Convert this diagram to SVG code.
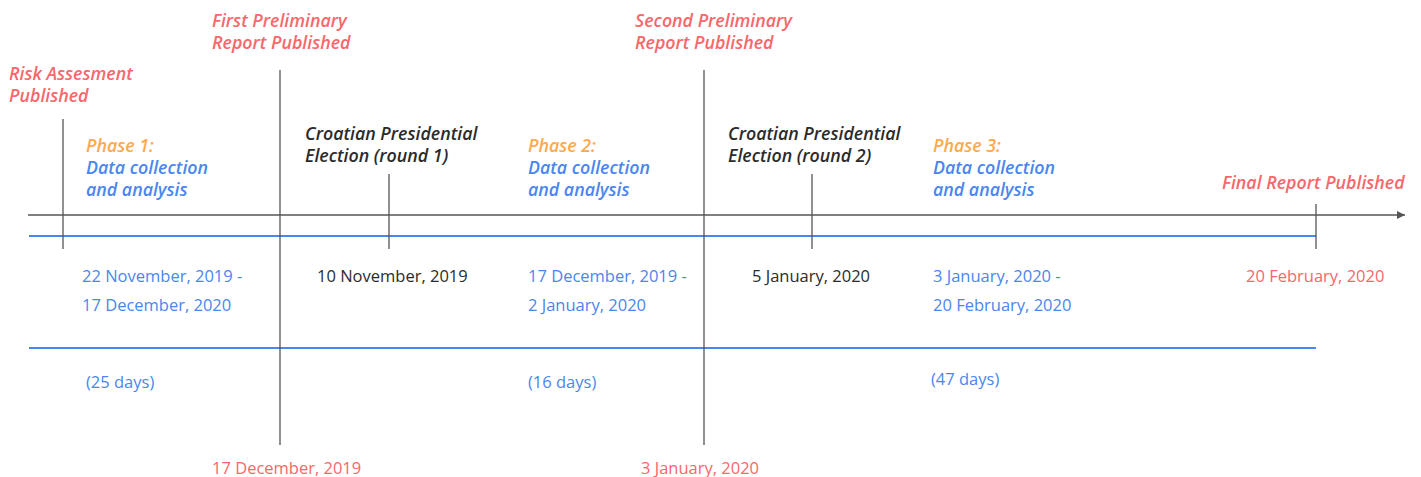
<svg xmlns="http://www.w3.org/2000/svg" width="1421" height="477" viewBox="0 0 1421 477">
<style>
text{font-family:"Open Sans","Noto Sans",sans-serif}
.h{font-size:17.8px;font-weight:600;font-style:italic}
.d{font-size:16.5px}
.red{fill:#f7676b}
.org{fill:#ffa94d}
.blu{fill:#4a86f0}
.dk{fill:#2b2b2b}
.ax{stroke:#555;stroke-width:1.3;fill:none}
.bl{stroke:#4a86f0;stroke-width:2;fill:none}
</style>
<defs>
<marker id="arr" viewBox="0 0 10 10" refX="10" refY="5" markerWidth="8" markerHeight="8" markerUnits="userSpaceOnUse" orient="auto">
<path d="M0,0 L10,5 L0,10 z" fill="#555"/>
</marker>
</defs>
<g id="connectors">
<line class="ax" x1="28" y1="215" x2="1405" y2="215" marker-end="url(#arr)"/>
<line class="bl" x1="29" y1="236" x2="1316" y2="236"/>
<line class="bl" x1="29" y1="348" x2="1316" y2="348"/>
<line class="ax" x1="63" y1="119" x2="63" y2="249"/>
<line class="ax" x1="280" y1="70" x2="280" y2="445"/>
<line class="ax" x1="389" y1="174" x2="389" y2="249"/>
<line class="ax" x1="704" y1="70" x2="704" y2="445"/>
<line class="ax" x1="812" y1="174" x2="812" y2="249"/>
<line class="ax" x1="1316" y1="204" x2="1316" y2="249"/>
</g>
<g id="risk">
<text class="h red" x="9" y="80">Risk Assesment</text>
<text class="h red" x="9" y="102">Published</text>
</g>
<g id="first-report">
<text class="h red" x="212" y="27">First Preliminary</text>
<text class="h red" x="212" y="49">Report Published</text>
<text class="d red" x="212" y="474">17 December, 2019</text>
</g>
<g id="second-report">
<text class="h red" x="635" y="27">Second Preliminary</text>
<text class="h red" x="635" y="49">Report Published</text>
<text class="d red" x="641" y="474">3 January, 2020</text>
</g>
<g id="phase1">
<text class="h org" x="86" y="152">Phase 1:</text>
<text class="h blu" x="86" y="174">Data collection</text>
<text class="h blu" x="86" y="196">and analysis</text>
<text class="d blu" x="82" y="282">22 November, 2019 -</text>
<text class="d blu" x="82" y="311">17 December, 2020</text>
<text class="d blu" x="86" y="388">(25 days)</text>
</g>
<g id="election1">
<text class="h dk" x="305" y="140">Croatian Presidential</text>
<text class="h dk" x="305" y="162">Election (round 1)</text>
<text class="d dk" x="317" y="282">10 November, 2019</text>
</g>
<g id="phase2">
<text class="h org" x="528" y="152">Phase 2:</text>
<text class="h blu" x="528" y="174">Data collection</text>
<text class="h blu" x="528" y="196">and analysis</text>
<text class="d blu" x="528" y="282">17 December, 2019 -</text>
<text class="d blu" x="528" y="311">2 January, 2020</text>
<text class="d blu" x="528" y="388">(16 days)</text>
</g>
<g id="election2">
<text class="h dk" x="728" y="140">Croatian Presidential</text>
<text class="h dk" x="728" y="162">Election (round 2)</text>
<text class="d dk" x="752" y="282">5 January, 2020</text>
</g>
<g id="phase3">
<text class="h org" x="933" y="152">Phase 3:</text>
<text class="h blu" x="933" y="174">Data collection</text>
<text class="h blu" x="933" y="196">and analysis</text>
<text class="d blu" x="933" y="282">3 January, 2020 -</text>
<text class="d blu" x="933" y="311">20 February, 2020</text>
<text class="d blu" x="931" y="385">(47 days)</text>
</g>
<g id="final">
<text class="h red" x="1222" y="189">Final Report Published</text>
<text class="d red" x="1246" y="282">20 February, 2020</text>
</g>
</svg>
